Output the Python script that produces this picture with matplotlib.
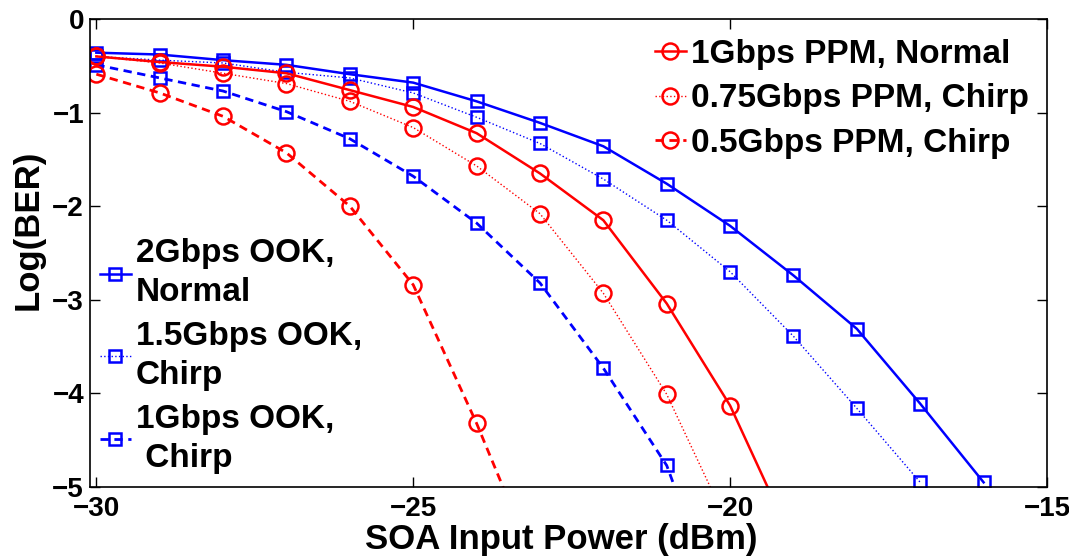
import matplotlib
matplotlib.use("Agg")
import matplotlib.pyplot as plt

plt.rcParams['font.family'] = ['Liberation Sans', 'DejaVu Sans']
plt.rcParams['font.weight'] = 'bold'

# SOA input power (dBm)
x_ook_normal = [-30, -29, -28, -27, -26, -25, -24, -23, -22, -21, -20, -19, -18, -17, -16]
y_ook_normal = [-0.36, -0.38, -0.44, -0.49, -0.59, -0.68, -0.88, -1.11, -1.36, -1.76, -2.21, -2.74, -3.31, -4.11, -4.95]

x_ook15_chirp = [-30, -29, -28, -27, -26, -25, -24, -23, -22, -21, -20, -19, -18, -17]
y_ook15_chirp = [-0.40, -0.44, -0.47, -0.57, -0.63, -0.79, -1.05, -1.33, -1.71, -2.15, -2.70, -3.39, -4.16, -4.95]

x_ook1_chirp = [-30, -29, -28, -27, -26, -25, -24, -23, -22, -21, -20]
y_ook1_chirp = [-0.49, -0.63, -0.77, -0.99, -1.28, -1.68, -2.18, -2.82, -3.73, -4.77, -6.6]

x_ppm_normal = [-30, -29, -28, -27, -26, -25, -24, -23, -22, -21, -20, -19]
y_ppm_normal = [-0.40, -0.46, -0.51, -0.58, -0.76, -0.94, -1.22, -1.65, -2.15, -3.04, -4.13, -5.6]

x_ppm075_chirp = [-30, -29, -28, -27, -26, -25, -24, -23, -22, -21, -20]
y_ppm075_chirp = [-0.40, -0.47, -0.58, -0.69, -0.88, -1.16, -1.57, -2.08, -2.93, -4.01, -5.45]

x_ppm05_chirp = [-30, -29, -28, -27, -26, -25, -24, -23]
y_ppm05_chirp = [-0.59, -0.79, -1.04, -1.43, -2.00, -2.84, -4.32, -5.95]

x_ticks = [-30, -25, -20, -15]
y_ticks = [-5, -4, -3, -2, -1, 0]

ppm_labels = ['1Gbps PPM, Normal', '0.75Gbps PPM, Chirp', '0.5Gbps PPM, Chirp']
ook_labels = ['2Gbps OOK,\nNormal', '1.5Gbps OOK,\nChirp', '1Gbps OOK,\n Chirp']

fig = plt.figure(figsize=(10.69, 5.58), dpi=100)
ax = fig.add_axes([0.0842, 0.1272, 0.8952, 0.8388])

sq = dict(marker='s', markersize=9, markerfacecolor='none', markeredgewidth=1.8)
ci = dict(marker='o', markersize=11.5, markerfacecolor='none', markeredgewidth=1.8)
dash = (0, (3, 2))

h1, = ax.plot(x_ook_normal, y_ook_normal, color='blue', linestyle='-', linewidth=1.8, **sq)
h2, = ax.plot(x_ook15_chirp, y_ook15_chirp, color='blue', linestyle=':', linewidth=1.0, **sq)
h3, = ax.plot(x_ook1_chirp, y_ook1_chirp, color='blue', linestyle=dash, linewidth=2.0, **sq)
h4, = ax.plot(x_ppm_normal, y_ppm_normal, color='red', linestyle='-', linewidth=1.8, **ci)
h5, = ax.plot(x_ppm075_chirp, y_ppm075_chirp, color='red', linestyle=':', linewidth=1.0, **ci)
h6, = ax.plot(x_ppm05_chirp, y_ppm05_chirp, color='red', linestyle=dash, linewidth=2.0, **ci)

ax.set_xlim(-30.1, -15)
ax.set_ylim(-5, 0)
ax.set_xticks(x_ticks)
ax.set_yticks(y_ticks)
ax.tick_params(direction='in', top=True, right=True, length=7, width=1, labelsize=20)
ax.tick_params(axis='x', pad=6.5)
ax.tick_params(axis='y', pad=4.3)
for lab in ax.get_xticklabels() + ax.get_yticklabels():
    lab.set_fontweight('bold')
for s in ax.spines.values():
    s.set_linewidth(1.2)

ax.set_xlabel('SOA Input Power (dBm)', fontsize=25, fontweight='bold')
ax.set_ylabel('Log(BER)', fontsize=25, fontweight='bold')
ax.xaxis.set_label_coords(0.492, -0.076)
ax.yaxis.set_label_coords(-0.047, 0.55)

leg_prop = {'weight': 'bold', 'size': 24}
leg1 = ax.legend([h4, h5, h6], ppm_labels, loc='upper left', bbox_to_anchor=(0.590, 0.957),
                 frameon=False, handlelength=0.93, handletextpad=0.15,
                 labelspacing=0.4, borderaxespad=0.0, borderpad=0.0, prop=leg_prop)
ax.add_artist(leg1)
leg2 = ax.legend([h1, h2, h3], ook_labels, loc='lower left', bbox_to_anchor=(0.0104, 0.028),
                 frameon=False, handlelength=0.93, handletextpad=0.15,
                 labelspacing=0.37, borderaxespad=0.0, borderpad=0.0, prop=leg_prop)
for t in leg2.get_texts():
    t.set_linespacing(1.35)

fig.savefig('out.png', dpi=100)
